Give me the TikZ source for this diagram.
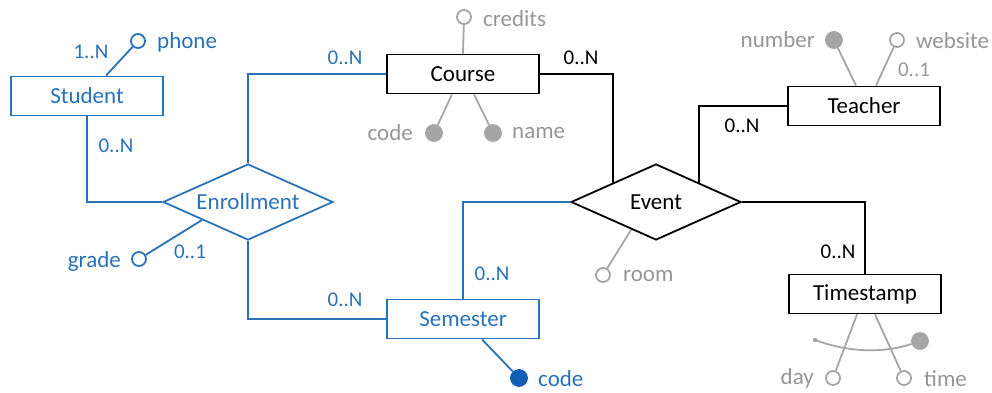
\documentclass[tikz,border=0pt]{standalone}
\usepackage{fontspec}
\setmainfont{Carlito}
\usetikzlibrary{shapes.geometric}
\definecolor{erblue}{RGB}{40,114,184}
\definecolor{erdblue}{RGB}{18,94,180}
\definecolor{ergray}{RGB}{165,165,165}
\definecolor{ergtext}{RGB}{150,150,150}
\tikzset{
  ent/.style={draw, line width=1.8pt, minimum width=152pt, minimum height=39pt, inner sep=0pt, font=\fontsize{23}{27}\selectfont},
  rel/.style={draw, diamond, aspect=2.27, line width=1.8pt, minimum width=170pt, minimum height=76pt, inner sep=0pt, font=\fontsize{23}{27}\selectfont},
  oatt/.style={circle, draw=#1, fill=white, line width=1.8pt, minimum size=14pt, inner sep=0pt},
  katt/.style={circle, draw=#1, fill=#1, line width=1.8pt, minimum size=16pt, inner sep=0pt},
  lbl/.style={inner sep=0pt, font=\fontsize{23}{27}\selectfont},
  card/.style={inner sep=0pt, font=\fontsize{21}{25}\selectfont},
  conn/.style={line width=1.8pt},
}
\begin{document}
\begin{tikzpicture}[x=1pt,y=-1pt]
\useasboundingbox (0,0) rectangle (992,393);
% entities
\node[ent, erblue, text=erblue] (stu) at (87,96) {Student};
\node[ent] (course) at (463,74) {Course};
\node[ent] (teacher) at (864,106) {Teacher};
\node[ent] (ts) at (865,294) {Timestamp};
\node[ent, erblue, text=erblue] (sem) at (463,319) {Semester};
% relationships
\node[rel, erblue, text=erblue] (enr) at (248,202) {Enrollment};
\node[rel] (ev) at (656,202) {Event};
% relationship connectors
\draw[conn, erblue] (stu.south) |- (enr.west);
\draw[conn, erblue] (enr.north) |- (course.west);
\draw[conn, erblue] (enr.south) |- (sem.west);
\draw[conn, erblue] (ev.west) -| (sem.north);
\draw[conn] (course.east) -| (ev.north west);
\draw[conn] (ev.north east) |- (teacher.west);
\draw[conn] (ev.east) -| (ts.north);
% cardinalities
\node[card, erblue] (c1) at (91,52) {1..N};
\node[card, erblue] (c2) at (116,146) {0..N};
\node[card, erblue] (c3) at (190,252) {0..1};
\node[card, erblue] (c4) at (345,58) {0..N};
\node[card, erblue] (c5) at (345,300) {0..N};
\node[card, erblue] (c6) at (492,274) {0..N};
\node[card] (c7) at (581,58) {0..N};
\node[card] (c8) at (742,126) {0..N};
\node[card] (c9) at (838,252) {0..N};
\node[card, ergtext] (c10) at (914,70) {0..1};
% Student attributes
\node[oatt=erblue] (phone) at (138,41) {};
\draw[conn, erblue] (phone) -- ([xshift=19pt]stu.north);
\node[lbl, erblue, anchor=west] (tphone) at (157,42) {phone};
% Enrollment attribute
\node[oatt=erblue] (grade) at (139,259) {};
\draw[conn, erblue] (grade) -- (202,220);
\node[lbl, erblue, anchor=east] (tgrade) at (121,261) {grade};
% Course attributes
\node[oatt=ergray] (credits) at (464,17) {};
\draw[conn, ergray] (credits) -- (course.north);
\node[lbl, ergtext, anchor=west] (tcredits) at (483,19) {credits};
\node[katt=ergray] (ccode) at (434,133) {};
\draw[conn, ergray] (ccode) -- ([xshift=-11pt]course.south);
\node[lbl, ergtext, anchor=east] (tccode) at (413,133) {code};
\node[katt=ergray] (cname) at (493,133) {};
\draw[conn, ergray] (cname) -- ([xshift=11pt]course.south);
\node[lbl, ergtext, anchor=west] (tcname) at (512,133) {name};
% Teacher attributes
\node[katt=ergray] (number) at (834,40) {};
\draw[conn, ergray] (number) -- ([xshift=-8pt]teacher.north);
\node[lbl, ergtext, anchor=east] (tnumber) at (815,40) {number};
\node[oatt=ergray] (website) at (897,40) {};
\draw[conn, ergray] (website) -- ([xshift=12pt]teacher.north);
\node[lbl, ergtext, anchor=west] (twebsite) at (916,41) {website};
% Event attribute
\node[oatt=ergray] (room) at (603,275) {};
\draw[conn, ergray] (room) -- (631,230);
\node[lbl, ergtext, anchor=west] (troom) at (623,276) {room};
% Semester attribute
\node[katt=erdblue] (scode) at (519,378) {};
\draw[conn, erblue] (scode) -- ([xshift=19pt]sem.south);
\node[lbl, erblue, anchor=west] (tscode) at (538,379) {code};
% Timestamp attributes
\node[oatt=ergray] (day) at (833,378) {};
\draw[conn, ergray] (day) -- ([xshift=-8pt]ts.south);
\node[lbl, ergtext, anchor=east] (tday) at (814,378) {day};
\node[oatt=ergray] (time) at (904,378) {};
\draw[conn, ergray] (time) -- ([xshift=10pt]ts.south);
\node[lbl, ergtext, anchor=west] (ttime) at (924,379) {time};
% composite key arc
\coordinate (arcs) at (815,340);
\node[katt=ergray] (tkey) at (920,341) {};
\fill[ergray] (arcs) circle (2.2pt);
\draw[conn, ergray] (arcs) .. controls (850,353) and (885,353) .. (tkey);
\end{tikzpicture}
\end{document}
